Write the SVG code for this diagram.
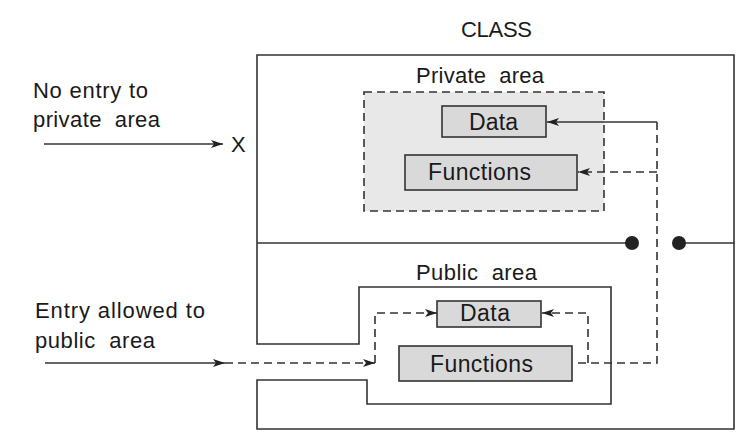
<svg xmlns="http://www.w3.org/2000/svg" width="747" height="439" viewBox="0 0 747 439">
<style>
text{font-family:"Liberation Sans",Arial,sans-serif;fill:#1a1a1a;white-space:pre}
.lbl{font-size:22px}
.box{font-size:23px}
.ln{fill:none;stroke:#333;stroke-width:1.6}
.dash{stroke-dasharray:8,5}
.bx{fill:#d9d9d9;stroke:#333;stroke-width:1.6}
</style>
<defs>
<marker id="arr" markerUnits="userSpaceOnUse" markerWidth="13" markerHeight="9" refX="12" refY="4" orient="auto">
<path d="M0,0 L12,4 L0,8 L3,4 Z" fill="#222"/>
</marker>
</defs>
<rect width="747" height="439" fill="#fff"/>
<g id="class">
<text class="lbl" x="461" y="37" textLength="71" lengthAdjust="spacing">CLASS</text>
<path class="ln" d="M257,344 L257,55 L734,55 L734,429 L257,429 L257,380 L367,380 L367,404 L611,404 L611,287 L359,287 L359,344 Z"/>
<line class="ln" x1="257" y1="243" x2="632" y2="243"/>
<line class="ln" x1="679" y1="243" x2="734" y2="243"/>
<circle cx="632" cy="243" r="7" fill="#222"/>
<circle cx="679" cy="243" r="7" fill="#222"/>
</g>
<g id="private-area">
<text class="lbl" x="416" y="83" textLength="128" lengthAdjust="spacing">Private  area</text>
<rect x="364" y="92" width="240" height="119" fill="#e8e8e8" stroke="#333" stroke-width="1.6" stroke-dasharray="8,5"/>
</g>
<g id="private-data">
<rect class="bx" x="442" y="106" width="104" height="31"/>
<text class="box" x="469" y="130" textLength="49" lengthAdjust="spacing">Data</text>
</g>
<g id="private-functions">
<rect class="bx" x="405" y="155" width="172" height="35"/>
<text class="box" x="428" y="180" textLength="103" lengthAdjust="spacing">Functions</text>
</g>
<g id="public-area">
<text class="lbl" x="416" y="280" textLength="121" lengthAdjust="spacing">Public  area</text>
</g>
<g id="public-data">
<rect class="bx" x="437" y="301" width="104" height="26"/>
<text class="box" x="460" y="321" textLength="50" lengthAdjust="spacing">Data</text>
</g>
<g id="public-functions">
<rect class="bx" x="399" y="346" width="173" height="35"/>
<text class="box" x="430" y="372" textLength="103" lengthAdjust="spacing">Functions</text>
</g>
<g id="no-entry">
<text class="lbl" x="33" y="98" textLength="115" lengthAdjust="spacing">No entry to</text>
<text class="lbl" x="33" y="127" textLength="127" lengthAdjust="spacing">private  area</text>
<text class="lbl" x="231" y="152">X</text>
</g>
<g id="entry-allowed">
<text class="lbl" x="35" y="318" textLength="170" lengthAdjust="spacing">Entry allowed to</text>
<text class="lbl" x="35" y="348" textLength="120" lengthAdjust="spacing">public  area</text>
</g>
<g id="connectors">
<line class="ln" x1="44" y1="144" x2="223" y2="144" marker-end="url(#arr)"/>
<line class="ln" x1="657" y1="122" x2="547" y2="122" marker-end="url(#arr)"/>
<path class="ln dash" d="M657,122 V363 H576"/>
<line class="ln dash" x1="657" y1="172" x2="578" y2="172" marker-end="url(#arr)"/>
<path class="ln dash" d="M588,363 V313 H542" marker-end="url(#arr)"/>
<line class="ln" x1="45" y1="363" x2="225" y2="363" marker-end="url(#arr)"/>
<line class="ln dash" x1="225" y1="363" x2="375" y2="363" marker-end="url(#arr)"/>
<path class="ln dash" d="M375,363 V313 H437" marker-end="url(#arr)"/>
</g>
</svg>
